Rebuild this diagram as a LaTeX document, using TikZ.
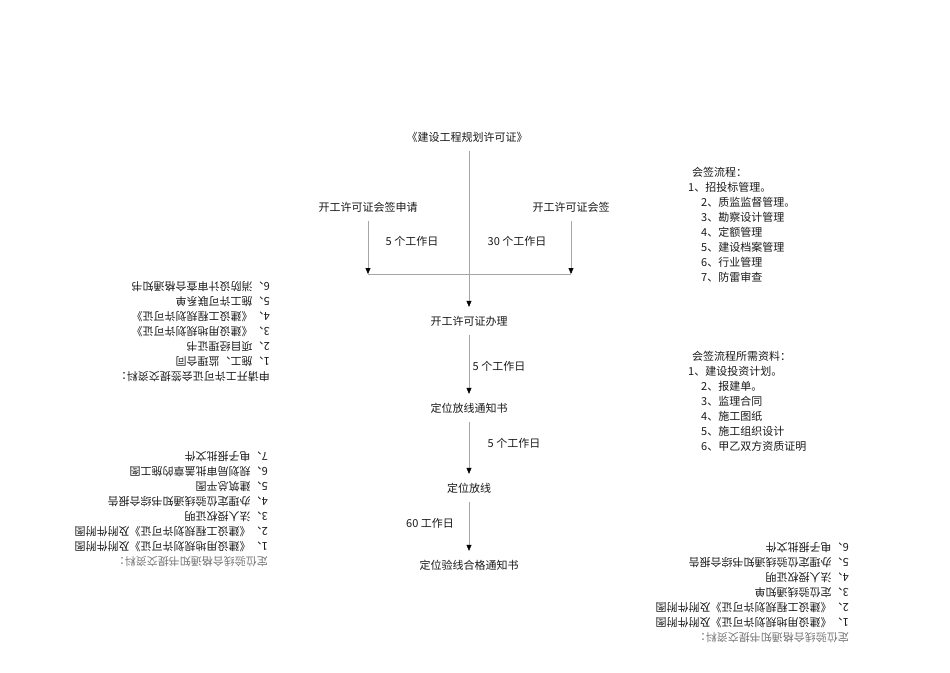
\documentclass[tikz,border=0pt]{standalone}
\usepackage{fontspec}
\setmainfont{Noto Sans CJK SC}
\usepackage{tikz}
\usetikzlibrary{arrows.meta}
\usetikzlibrary{positioning}
\tikzset{>={Triangle[width=5pt,length=6pt,black]}}

\begin{document}
\begin{tikzpicture}[
        x=1pt, y=-1pt,
        every node/.style={font=\fontsize{11}{15}\selectfont,inner sep=0pt,text=black!90},
        stage/.style={minimum height=28pt},
        memo/.style={align=left,anchor=north west},
        flipmemo/.style={align=left,anchor=north west,rotate=180},
        link/.style={draw=black!35,->},
        bar/.style={draw=black!35}
    ]
    \useasboundingbox (0,0) rectangle (950,672);

    \node[stage] (title) at (467,137) {《建设工程规划许可证》};
    \node[stage] (apply) at (368,207) {开工许可证会签申请};
    \node[stage] (sign)  at (571,207) {开工许可证会签};
    \node (d1) at (412,241) {5 个工作日};
    \node (d2) at (517,241) {30 个工作日};
    \coordinate (lj) at (368,274);
    \coordinate (rj) at (571,274);

    \draw[link] (apply) -- (lj);
    \draw[link] (sign) -- (rj);
    \draw[bar]  (lj) -- (rj);

    \node[stage] (permit) at (469,321) {开工许可证办理};
    \node[stage] (notice) at (469,408) {定位放线通知书};
    \node[stage] (setout) at (469,488) {定位放线};
    \node[stage] (check)  at (469,565) {定位验线合格通知书};
    \node (d3) at (499,366) {5 个工作日};
    \node (d4) at (514,443) {5 个工作日};
    \node (d5) at (430,523) {60 工作日};

    \draw[link] (title.south -| permit) -- (permit);
    \draw[link] (permit) -- (notice);
    \draw[link] (notice) -- (setout);
    \draw[link] (setout) -- (check);

    % right-hand lists
    \node[memo] (flow) at (688,167) {\hspace*{4pt}会签流程：\\
        1、招投标管理。\\
        \hspace*{13pt}2、质监监督管理。\\
        \hspace*{13pt}3、勘察设计管理\\
        \hspace*{13pt}4、定额管理\\
        \hspace*{13pt}5、建设档案管理\\
        \hspace*{13pt}6、行业管理\\
        \hspace*{13pt}7、防雷审查};
    \node[memo] (needs) at (688,351) {\hspace*{4pt}会签流程所需资料：\\
        1、建设投资计划。\\
        \hspace*{13pt}2、报建单。\\
        \hspace*{13pt}3、监理合同\\
        \hspace*{13pt}4、施工图纸\\
        \hspace*{13pt}5、施工组织设计\\
        \hspace*{13pt}6、甲乙双方资质证明};

    % upside-down lists
    \node[flipmemo] (applydocs) at (270,382) {申请开工许可证会签提交资料：\\
        1、施工、监理合同\\
        2、项目经理证书\\
        3、《建设用地规划许可证》\\
        4、《建设工程规划许可证》\\
        5、施工许可联系单\\
        6、消防设计审查合格通知书};
    \node[flipmemo] (checkdocs) at (268,567) {\textcolor{black!55}{定位验线合格通知书提交资料：}\\
        1、《建设用地规划许可证》及附件附图\\
        2、《建设工程规划许可证》及附件附图\\
        3、法人授权证明\\
        4、办理定位验线通知书综合报告\\
        5、建筑总平图\\
        6、规划局审批盖章的施工图\\
        7、电子报批文件};
    \node[flipmemo] (checkdocs2) at (849,643) {\textcolor{black!55}{定位验线合格通知书提交资料：}\\
        1、《建设用地规划许可证》及附件附图\\
        2、《建设工程规划许可证》及附件附图\\
        3、定位验线通知单\\
        4、法人授权证明\\
        5、办理定位验线通知书综合报告\\
        6、电子报批文件};
\end{tikzpicture}
\end{document}
